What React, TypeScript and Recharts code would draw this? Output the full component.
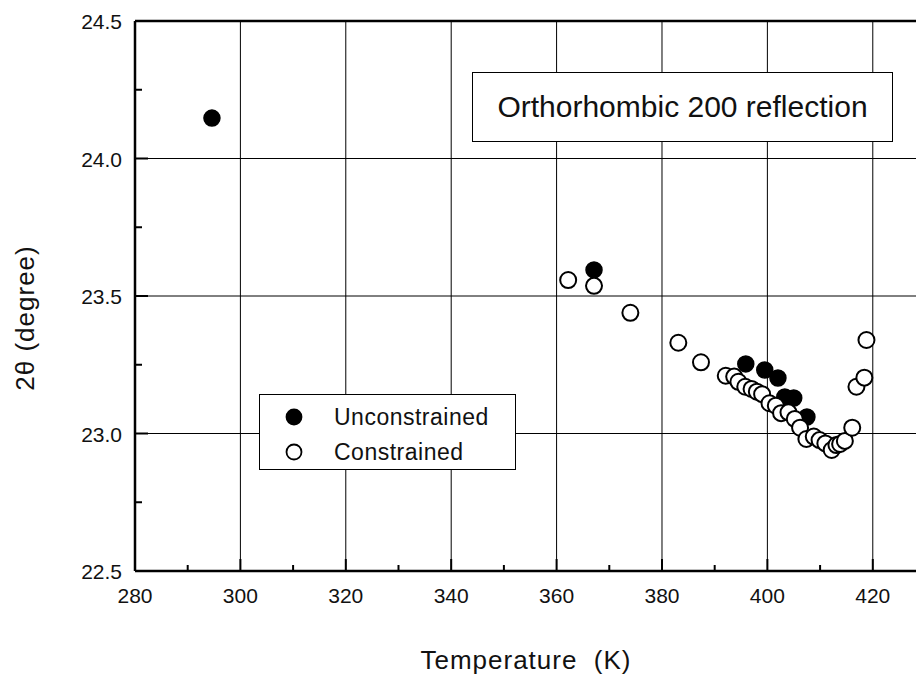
import { ScatterChart, Scatter, XAxis, YAxis, CartesianGrid, ReferenceLine } from "recharts";

// Temperature (K) and 2θ (degree)
const unconstrainedT = [294.6, 367.1, 395.9, 399.5, 402.0, 403.3, 405.0, 407.5];
const unconstrainedTheta = [24.147, 23.595, 23.253, 23.231, 23.202, 23.133, 23.129, 23.06];

const constrainedT = [
  362.2, 367.1, 374.0, 383.1, 387.4, 392.1, 393.7, 394.5, 395.8, 397.0, 398.0, 399.0, 400.4,
  401.6, 402.6, 404.0, 405.2, 406.2, 407.4, 408.8, 409.9, 411.0, 412.2, 413.1, 413.8, 414.7,
  416.1, 416.9, 418.4, 418.8,
];
const constrainedTheta = [
  23.558, 23.537, 23.439, 23.33, 23.259, 23.21, 23.207, 23.188, 23.17, 23.162, 23.152, 23.143,
  23.11, 23.101, 23.074, 23.077, 23.053, 23.021, 22.98, 22.989, 22.976, 22.964, 22.94, 22.958,
  22.962, 22.973, 23.021, 23.17, 23.203, 23.34,
];

const xTicks = [280, 290, 300, 310, 320, 330, 340, 350, 360, 370, 380, 390, 400, 410, 420];
const xMajor = [280, 300, 320, 340, 360, 380, 400, 420];
const yTicks = [22.5, 22.75, 23.0, 23.25, 23.5, 23.75, 24.0, 24.25, 24.5];
const yMajor = [22.5, 23.0, 23.5, 24.0, 24.5];

const unconstrained = unconstrainedT.map((t, i) => ({ t, v: unconstrainedTheta[i] }));
const constrained = constrainedT.map((t, i) => ({ t, v: constrainedTheta[i] }));

const FONT = "'Liberation Sans', Arial, Helvetica, sans-serif";

const XTick = (props: any) => {
  const { x, y, payload } = props;
  const major = xMajor.includes(payload.value);
  return (
    <g>
      <line x1={x} y1={y} x2={x} y2={y - (major ? 12 : 6)} stroke="#000" strokeWidth={2} />
      {major && (
        <text x={x} y={y + 32} textAnchor="middle" fontSize={21} fontFamily={FONT} fill="#111">
          {payload.value}
        </text>
      )}
    </g>
  );
};

const YTick = (props: any) => {
  const { x, y, payload } = props;
  const major = yMajor.includes(payload.value);
  return (
    <g>
      <line x1={x} y1={y} x2={x + (major ? 13 : 7)} y2={y} stroke="#000" strokeWidth={2} />
      {major && (
        <text x={x - 13} y={y + 8} textAnchor="end" fontSize={21} fontFamily={FONT} fill="#111">
          {payload.value.toFixed(1)}
        </text>
      )}
    </g>
  );
};

const filledDot = (p: any) => <circle cx={p.cx} cy={p.cy} r={8} fill="#000" stroke="#000" strokeWidth={1.5} />;
const openDot = (p: any) => <circle cx={p.cx} cy={p.cy} r={8} fill="#fff" stroke="#000" strokeWidth={2} />;

export default function App() {
  return (
    <div style={{ position: "relative", width: 916, height: 674, background: "#fff", fontFamily: FONT }}>
      <style>{"body{margin:0;overflow:hidden}"}</style>
      <ScatterChart width={916} height={674} margin={{ top: 21, right: 0, bottom: 0, left: 0 }}>
        <CartesianGrid
          stroke="#000"
          strokeWidth={1}
          verticalValues={xMajor}
          horizontalValues={yMajor}
        />
        <XAxis
          type="number"
          dataKey="t"
          domain={[280, 428.2]}
          allowDataOverflow
          ticks={xTicks}
          interval={0}
          tickSize={0}
          tickMargin={0}
          tickLine={false}
          height={103}
          axisLine={{ stroke: "#000", strokeWidth: 2.5 }}
          tick={<XTick />}
        />
        <YAxis
          type="number"
          dataKey="v"
          domain={[22.5, 24.5]}
          allowDataOverflow
          ticks={yTicks}
          interval={0}
          tickSize={0}
          tickMargin={0}
          tickLine={false}
          width={135}
          axisLine={{ stroke: "#000", strokeWidth: 2.5 }}
          tick={<YTick />}
        />
        <ReferenceLine y={24.5} stroke="#000" strokeWidth={2.5} />
        <Scatter data={unconstrained} shape={filledDot} isAnimationActive={false} />
        <Scatter data={constrained} shape={openDot} isAnimationActive={false} />
      </ScatterChart>

      {/* title box */}
      <div
        style={{
          position: "absolute",
          left: 472,
          top: 72,
          width: 421,
          height: 70,
          border: "1.5px solid #000",
          background: "#fff",
          boxSizing: "border-box",
          display: "flex",
          alignItems: "center",
          justifyContent: "center",
          fontSize: 30,
          color: "#111",
        }}
      >
        Orthorhombic 200 reflection
      </div>

      {/* legend box */}
      <div
        style={{
          position: "absolute",
          left: 259,
          top: 394,
          width: 257,
          height: 76,
          border: "1.5px solid #000",
          background: "#fff",
          boxSizing: "border-box",
          fontSize: 23,
          letterSpacing: 0.5,
          color: "#111",
        }}
      >
        {[
          { label: "Unconstrained", fill: "#000" },
          { label: "Constrained", fill: "#fff" },
        ].map((item, i) => (
          <div key={item.label} style={{ position: "absolute", left: 0, top: 8 + i * 35, height: 28, display: "flex", alignItems: "center" }}>
            <svg width={20} height={20} style={{ marginLeft: 24 }}>
              <circle cx={10} cy={10} r={7.5} fill={item.fill} stroke="#000" strokeWidth={1.8} />
            </svg>
            <span style={{ marginLeft: 30 }}>{item.label}</span>
          </div>
        ))}
      </div>

      {/* axis titles */}
      <div
        style={{
          position: "absolute",
          left: 25,
          top: 318,
          transform: "translate(-50%, -50%) rotate(-90deg)",
          whiteSpace: "nowrap",
          fontSize: 26,
          letterSpacing: 1,
          color: "#111",
        }}
      >
        2θ (degree)
      </div>
      <div
        style={{
          position: "absolute",
          left: 526,
          top: 660,
          transform: "translate(-50%, -50%)",
          whiteSpace: "pre",
          fontSize: 26,
          letterSpacing: 1,
          color: "#111",
        }}
      >
        {"Temperature  (K)"}
      </div>
    </div>
  );
}
